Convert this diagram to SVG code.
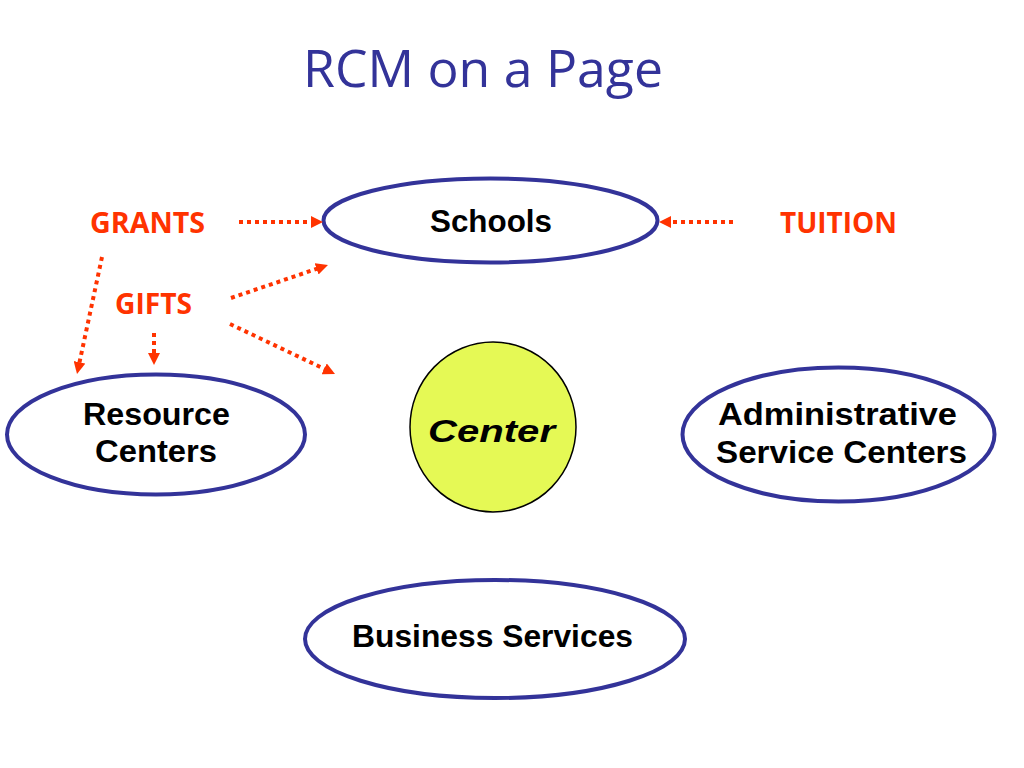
<svg xmlns="http://www.w3.org/2000/svg" width="1024" height="768" viewBox="0 0 1024 768">
<defs>
<style>
.title{font-family:"Open Sans","Liberation Sans",sans-serif;font-size:52px;fill:#333399}
.node{fill:#ffffff;stroke:#333399;stroke-width:4}
.lbl{font-family:"Liberation Sans",Arial,sans-serif;font-weight:bold;font-size:32px;fill:#000000;text-anchor:middle}
.src{font-family:"Open Sans","Liberation Sans",sans-serif;font-weight:bold;font-size:28px;fill:#ff3300;text-anchor:middle}
.flow{fill:none;stroke:#ff3300;stroke-width:4;stroke-dasharray:4 4}
</style>
<marker id="ah" viewBox="0 0 12 12" refX="2" refY="6" markerWidth="12" markerHeight="12" markerUnits="userSpaceOnUse" orient="auto">
<path d="M0,0 L12,6 L0,12 z" fill="#ff3300"/>
</marker>
</defs>
<rect width="1024" height="768" fill="#ffffff"/>
<text class="title" x="303" y="87" textLength="360" lengthAdjust="spacingAndGlyphs">RCM on a Page</text>

<g id="schools">
<ellipse class="node" cx="490.5" cy="220.5" rx="167" ry="42"/>
<text class="lbl" x="491" y="232" font-size="34" textLength="122" lengthAdjust="spacingAndGlyphs">Schools</text>
</g>
<g id="resource-centers">
<ellipse class="node" cx="156" cy="434.5" rx="149" ry="60"/>
<text class="lbl" x="156.5" y="425" textLength="147" lengthAdjust="spacingAndGlyphs">Resource</text>
<text class="lbl" x="156" y="462" textLength="122" lengthAdjust="spacingAndGlyphs">Centers</text>
</g>
<g id="center">
<ellipse cx="493" cy="427" rx="83" ry="85" fill="#e5f955" stroke="#000000" stroke-width="1.5"/>
<text class="lbl" x="491.5" y="442" font-style="italic" font-size="42" textLength="127" lengthAdjust="spacingAndGlyphs">Center</text>
</g>
<g id="admin-service-centers">
<ellipse class="node" cx="838.5" cy="434.5" rx="156" ry="67"/>
<text class="lbl" x="837.5" y="425" textLength="239" lengthAdjust="spacingAndGlyphs">Administrative</text>
<text class="lbl" x="841.5" y="463" textLength="251" lengthAdjust="spacingAndGlyphs">Service Centers</text>
</g>
<g id="business-services">
<ellipse class="node" cx="495" cy="639" rx="190" ry="59"/>
<text class="lbl" x="492.5" y="647" font-size="34" textLength="281" lengthAdjust="spacingAndGlyphs">Business Services</text>
</g>
<g id="grants">
<text class="src" x="147.5" y="233" textLength="115" lengthAdjust="spacingAndGlyphs">GRANTS</text>
</g>
<g id="gifts">
<text class="src" x="153.5" y="314" textLength="77" lengthAdjust="spacingAndGlyphs">GIFTS</text>
</g>
<g id="tuition">
<text class="src" x="838.5" y="233" textLength="117" lengthAdjust="spacingAndGlyphs">TUITION</text>
</g>

<g id="connectors">
<path class="flow" d="M239,222 L313,222" marker-end="url(#ah)"/>
<path class="flow" d="M733,222 L669,222" marker-end="url(#ah)"/>
<path class="flow" d="M102,257 L79.1,364.2" marker-end="url(#ah)"/>
<path class="flow" d="M231,298 L318.5,268.2" marker-end="url(#ah)"/>
<path class="flow" d="M230,324 L326,369.7" marker-end="url(#ah)"/>
<path class="flow" d="M154,333 L154,355" marker-end="url(#ah)"/>
</g>
</svg>
